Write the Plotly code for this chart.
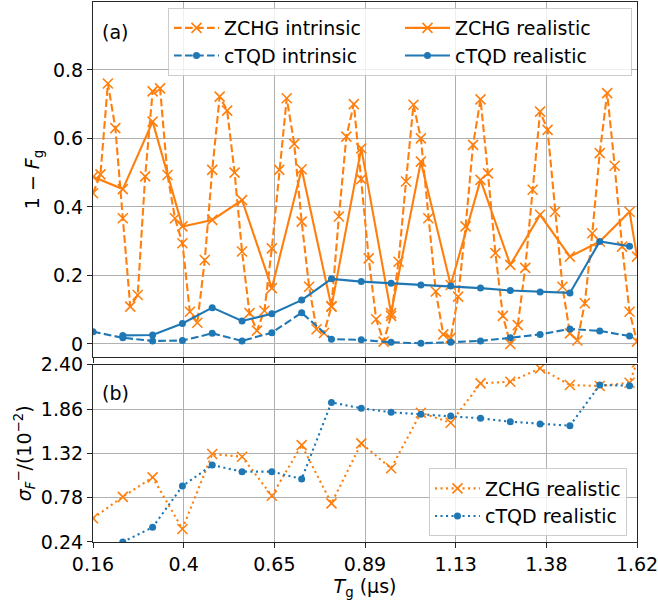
import plotly.graph_objects as go

# ---------------- data ----------------
# intrinsic ZCHG: dense gate-time grid (µs)
tg_dense = [round(0.16 + 0.02 * k, 2) for k in range(74)]
zchg_intrinsic = [
    0.44, 0.495, 0.76, 0.63, 0.367, 0.109, 0.143, 0.489, 0.737, 0.746,
    0.493, 0.367, 0.294, 0.094, 0.062, 0.245, 0.508, 0.722, 0.681, 0.50,
    0.27, 0.09, 0.039, 0.097, 0.279, 0.508, 0.717, 0.584, 0.357, 0.167,
    0.043, 0.032, 0.11, 0.372, 0.605, 0.70, 0.481, 0.25, 0.072, 0.007,
    0.082, 0.24, 0.474, 0.698, 0.60, 0.367, 0.153, 0.028, 0.018, 0.138,
    0.343, 0.581, 0.714, 0.498, 0.265, 0.082, 0.0, 0.055, 0.222, 0.45,
    0.678, 0.625, 0.386, 0.167, 0.031, 0.01, 0.119, 0.323, 0.557, 0.732,
    0.52, 0.284, 0.094, 0.007,
]

# coarse gate-time grid (µs)
tg_coarse = [0.16, 0.24, 0.32, 0.40, 0.48, 0.56, 0.64, 0.72, 0.80, 0.88,
             0.96, 1.04, 1.12, 1.20, 1.28, 1.36, 1.44, 1.52, 1.60, 1.62]
ctqd_intrinsic = [0.036, 0.018, 0.009, 0.01, 0.031, 0.009, 0.033, 0.091, 0.014, 0.012,
                  0.005, 0.002, 0.005, 0.009, 0.018, 0.028, 0.044, 0.038, 0.023, None]
zchg_realistic = [0.488, 0.452, 0.649, 0.343, 0.362, 0.42, 0.163, 0.51, 0.109, 0.571,
                  0.09, 0.532, 0.172, 0.479, 0.231, 0.377, 0.255, 0.299, 0.386, 0.255]
ctqd_realistic = [None, 0.025, 0.026, 0.06, 0.106, 0.067, 0.088, 0.128, 0.19, 0.182,
                  0.177, 0.172, 0.169, 0.163, 0.156, 0.152, 0.149, 0.299, 0.285, None]

# standard deviations (units of 1e-2)
zchg_sigma = [0.529, 0.79, 1.028, 0.398, 1.312, 1.279, 0.804, 1.42, 0.711, 1.442,
              1.138, 1.815, 1.693, 2.173, 2.193, 2.356, 2.153, 2.14, 2.18, 2.43]
ctqd_sigma = [None, 0.24, 0.419, 0.922, 1.178, 1.097, 1.097, 1.008, 1.94, 1.869,
              1.82, 1.796, 1.775, 1.747, 1.706, 1.678, 1.657, 2.153, 2.144, None]

x_tickvals = [round(0.16 + k * (1.62 - 0.16) / 6, 10) for k in range(7)]
x_ticktext = ["0.16", "0.4", "0.65", "0.89", "1.13", "1.38", "1.62"]
y1_tickvals = [0, 0.2, 0.4, 0.6, 0.8]
y1_ticktext = ["0", "0.2", "0.4", "0.6", "0.8"]
y2_tickvals = [0.24, 0.78, 1.32, 1.86, 2.40]
y2_ticktext = ["0.24", "0.78", "1.32", "1.86", "2.40"]

# ---------------- style ----------------
ORANGE = "#ff7f0e"
BLUE = "#1f77b4"
FONT = "DejaVu Sans"
FS = 19
DASH = "7.7px,3.3px"
DOT = "2.1px,3.4px"
LW = 2.1

xmark = dict(symbol="x-thin", size=10, color=ORANGE, line=dict(color=ORANGE, width=1.6))
omark = dict(symbol="circle", size=7, color=BLUE, line=dict(width=0))

fig = go.Figure()

# top panel
fig.add_trace(go.Scatter(x=tg_dense, y=zchg_intrinsic, name="ZCHG intrinsic", mode="lines+markers",
                         line=dict(color=ORANGE, width=LW, dash=DASH), marker=xmark,
                         xaxis="x2", yaxis="y2", legend="legend", legendrank=1))
fig.add_trace(go.Scatter(x=tg_coarse, y=ctqd_intrinsic, name="cTQD intrinsic", mode="lines+markers",
                         line=dict(color=BLUE, width=LW, dash=DASH), marker=omark,
                         xaxis="x2", yaxis="y2", legend="legend", legendrank=3))
fig.add_trace(go.Scatter(x=tg_coarse, y=zchg_realistic, name="ZCHG realistic", mode="lines+markers",
                         line=dict(color=ORANGE, width=LW), marker=xmark,
                         xaxis="x2", yaxis="y2", legend="legend", legendrank=2))
fig.add_trace(go.Scatter(x=tg_coarse, y=ctqd_realistic, name="cTQD realistic", mode="lines+markers",
                         line=dict(color=BLUE, width=LW), marker=omark,
                         xaxis="x2", yaxis="y2", legend="legend", legendrank=4))

# bottom panel
fig.add_trace(go.Scatter(x=tg_coarse, y=zchg_sigma, name="ZCHG realistic", mode="lines+markers",
                         line=dict(color=ORANGE, width=LW, dash=DOT), marker=xmark,
                         xaxis="x", yaxis="y", legend="legend2"))
fig.add_trace(go.Scatter(x=tg_coarse, y=ctqd_sigma, name="cTQD realistic", mode="lines+markers",
                         line=dict(color=BLUE, width=LW, dash=DOT), marker=omark,
                         xaxis="x", yaxis="y", legend="legend2"))

SPINE = "#262626"
GRID = "#b0b0b0"
axis_common = dict(showline=True, linecolor=SPINE, linewidth=1.1, mirror=True,
                   ticks="outside", ticklen=5, tickwidth=1.1, tickcolor=SPINE,
                   showgrid=True, gridcolor=GRID, gridwidth=1.1, zeroline=False,
                   automargin=False, ticklabeloverflow="allow",
                   tickfont=dict(family=FONT, size=FS, color="black"))

fig.update_layout(
    width=658, height=606,
    margin=dict(l=93, r=21, t=2, b=64, autoexpand=False),
    paper_bgcolor="white", plot_bgcolor="white",
    font=dict(family=FONT, size=FS, color="black"),
    xaxis=dict(domain=[0, 1], anchor="y", range=[0.16, 1.62],
               tickvals=x_tickvals, ticktext=x_ticktext,
               title=dict(text="<i>T</i><sub>g</sub> (µs)", font=dict(family=FONT, size=FS), standoff=4),
               **axis_common),
    yaxis=dict(domain=[0, 0.3283], anchor="x", range=[0.24, 2.40],
               tickvals=y2_tickvals, ticktext=y2_ticktext,
               title=dict(text="<i>σ</i><sub><i>F</i></sub><sup>−</sup>/(10<sup>−2</sup>)",
                          font=dict(family=FONT, size=FS), standoff=4),
               **axis_common),
    xaxis2=dict(domain=[0, 1], anchor="y2", matches="x", range=[0.16, 1.62],
                tickvals=x_tickvals, showticklabels=False, **axis_common),
    yaxis2=dict(domain=[0.3426, 1.0], anchor="x2", range=[-0.038, 0.998],
                tickvals=y1_tickvals, ticktext=y1_ticktext,
                title=dict(text="1 − <i>F</i><sub>g</sub>", font=dict(family=FONT, size=FS), standoff=8),
                **axis_common),
    legend=dict(orientation="h", x=0.9908, xanchor="right", y=0.9889, yanchor="top",
                bgcolor="rgba(255,255,255,0.8)", bordercolor="#cccccc", borderwidth=1,
                font=dict(family=FONT, size=FS), entrywidth=171, entrywidthmode="pixels",
                itemwidth=45, traceorder="normal", tracegroupgap=0),
    legend2=dict(orientation="v", x=0.9816, xanchor="right", y=0.0102, yanchor="bottom",
                 bgcolor="rgba(255,255,255,0.8)", bordercolor="#cccccc", borderwidth=1,
                 font=dict(family=FONT, size=FS), itemwidth=45, tracegroupgap=0),
    annotations=[
        dict(text="(a)", x=0.013, y=0.944, xref="paper", yref="paper",
             xanchor="left", yanchor="middle", showarrow=False, font=dict(family=FONT, size=FS)),
        dict(text="(b)", x=0.013, y=0.276, xref="paper", yref="paper",
             xanchor="left", yanchor="middle", showarrow=False, font=dict(family=FONT, size=FS)),
    ],
    showlegend=True,
)

fig.write_html("out.html")
